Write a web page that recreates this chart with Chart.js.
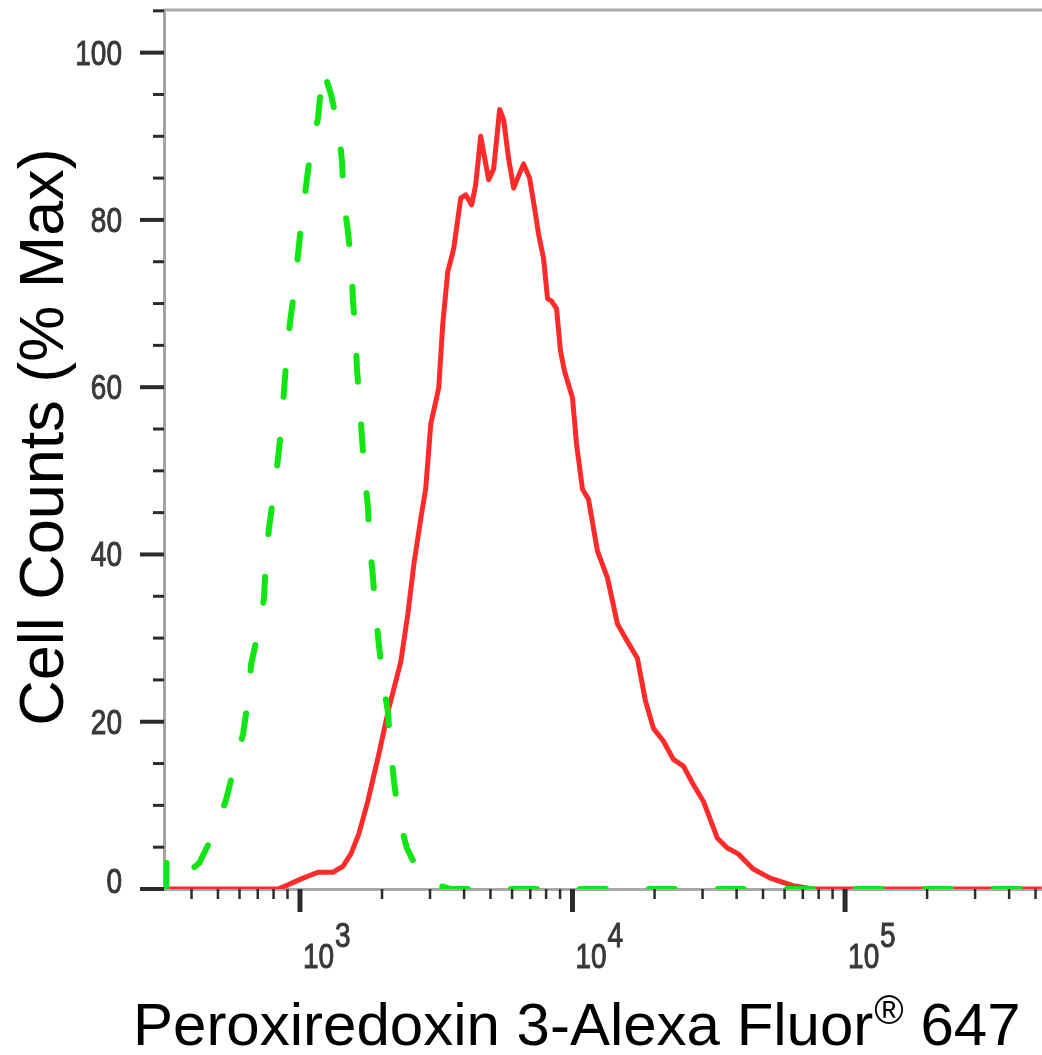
<!DOCTYPE html>
<html>
<head>
<meta charset="utf-8">
<script src="https://cdn.jsdelivr.net/npm/chart.js@4.4.1/dist/chart.umd.min.js"></script>
<style>
  html, body { margin: 0; padding: 0; background: #fff; }
  #wrap { width: 1042px; height: 1055px; position: relative; }
</style>
</head>
<body>
<div id="wrap"><canvas id="histChart"></canvas></div>
<script>
// isotype control (green dashed) - fluorescence intensity / % of max
const controlX = [323, 324, 372, 427, 492, 536, 578, 618, 646, 662, 708, 738, 750, 769, 804, 830,
  859, 873, 895, 918, 959, 984, 1016, 1052, 1096, 1164, 1213, 1300, 1390, 1426, 1449, 1500,
  1549, 1563, 1603, 1618, 1660, 1687, 1730, 1774, 1803, 1849, 1897, 1945, 2014, 2099, 2153,
  2208, 2307, 2466, 2825, 3573, 526800];
const controlY = [0, 3.6, 1.5, 3.1, 7.2, 10.7, 15.0, 18.5, 22.8, 26.9, 31.2, 34.8, 39.4, 43.0, 47.8, 51.4,
  55.9, 59.5, 64.0, 67.6, 72.3, 75.9, 80.4, 84.0, 88.5, 92.1, 98.1, 95.0, 90.6, 87.0, 82.2, 78.6,
  74.0, 70.5, 65.8, 62.2, 57.7, 54.1, 49.3, 45.8, 41.2, 37.6, 32.9, 29.4, 24.9, 21.3, 16.7,
  13.1, 8.5, 4.9, 1.0, 0, 0];

// Peroxiredoxin 3 stained cells (red)
const stainedX = [323, 830, 904, 1026, 1164, 1321, 1437, 1538, 1644, 1774, 1946, 2118, 2344, 2488,
  2617, 2775, 2894, 3019, 3229, 3340, 3485, 3666, 3889, 4057, 4266, 4413, 4603, 4924, 5136,
  5402, 5588, 5829, 6082, 6289, 6615, 6958, 7257, 7506, 7830, 8098, 8376, 8737, 9037, 9348,
  10000, 10344, 10880, 11444, 12346, 13434, 14616, 15636, 17300, 18510, 19807, 21544, 23442,
  25506, 27750, 30197, 33970, 36970, 40560, 46030, 53130, 64490, 76370, 526800];
const stainedY = [0, 0, 0.5, 1.3, 2.0, 2.0, 2.7, 4.2, 6.6, 10.5, 16.1, 21.6, 27.2, 32.9,
  38.8, 44.3, 47.9, 55.6, 59.9, 67.5, 73.8, 76.6, 82.6, 83.0, 81.8, 84.2, 90.0, 84.8, 86.1,
  93.2, 92.0, 87.3, 83.8, 85.0, 86.7, 85.0, 81.4, 78.3, 75.4, 70.6, 70.3, 69.4, 64.3, 61.9,
  58.7, 53.2, 47.8, 46.6, 40.4, 37.2, 31.7, 30.0, 27.6, 22.5, 19.2, 17.7, 15.5,
  14.7, 12.5, 10.5, 6.1, 4.9, 4.2, 2.4, 1.3, 0.4, 0, 0];

const xMajorTicks = [1000, 10000, 100000];
const xMajorExponents = ['3', '4', '5'];
const xMinorTicks = [400, 500, 600, 700, 800, 900,
  2000, 3000, 4000, 5000, 6000, 7000, 8000, 9000,
  20000, 30000, 40000, 50000, 60000, 70000, 80000, 90000,
  200000, 300000, 400000, 500000];
const yMajorTicks = [0, 20, 40, 60, 80, 100];
const yMinorTicks = [5, 10, 15, 25, 30, 35, 45, 50, 55, 65, 70, 75, 85, 90, 95, 105];

const xTitle = 'Peroxiredoxin 3-Alexa Fluor';
const xTitleMark = '\u00AE';
const xTitleEnd = ' 647';
const yTitle = 'Cell Counts (% Max)';

const FONT = '"Liberation Sans", Arial, Helvetica, sans-serif';

function toPoints(xs, ys) {
  return xs.map((v, i) => ({ x: v, y: ys[i] }));
}

function stroke(ctx, x1, y1, x2, y2) {
  ctx.beginPath();
  ctx.moveTo(x1, y1);
  ctx.lineTo(x2, y2);
  ctx.stroke();
}

// narrow, slightly heavy tick label font, like the cytometry software output
function narrowText(ctx, text, x, y, align) {
  ctx.save();
  ctx.translate(x, y);
  ctx.scale(0.8, 1);
  ctx.textAlign = align;
  ctx.fillText(text, 0, 0);
  ctx.strokeText(text, 0, 0);
  ctx.restore();
}

const axisDecor = {
  id: 'axisDecor',
  afterDraw(chart) {
    const { ctx, chartArea, scales: { x, y } } = chart;
    const base = chartArea.bottom;
    const left = chartArea.left;
    ctx.save();

    // top frame line
    ctx.strokeStyle = '#a9a9a9';
    ctx.lineWidth = 3;
    stroke(ctx, left, chartArea.top, chartArea.right, chartArea.top);

    // x tick marks
    ctx.strokeStyle = '#2b2b2b';
    ctx.lineWidth = 2.5;
    xMinorTicks.forEach(v => {
      const px = x.getPixelForValue(v);
      stroke(ctx, px, base, px, base + 10);
    });
    ctx.lineWidth = 5;
    xMajorTicks.forEach(v => {
      const px = x.getPixelForValue(v);
      stroke(ctx, px, base, px, base + 23);
    });

    // y tick marks
    ctx.lineWidth = 3;
    yMinorTicks.forEach(v => {
      const py = y.getPixelForValue(v);
      stroke(ctx, left - 11, py, left, py);
    });
    ctx.lineWidth = 4;
    yMajorTicks.forEach(v => {
      const py = y.getPixelForValue(v);
      stroke(ctx, left - 24, py, left, py);
    });

    // tick labels
    ctx.fillStyle = '#383838';
    ctx.strokeStyle = '#383838';
    ctx.lineWidth = 1;
    ctx.font = '35px ' + FONT;
    ctx.textBaseline = 'alphabetic';
    yMajorTicks.forEach(v => {
      const py = y.getPixelForValue(v) + 12 - (v === 0 ? 8 : 0);
      narrowText(ctx, String(v), 122, py, 'right');
    });
    xMajorTicks.forEach((v, i) => {
      const px = x.getPixelForValue(v);
      narrowText(ctx, '10', px + 3, 968, 'left');
      narrowText(ctx, xMajorExponents[i], px + 35, 947, 'left');
    });

    // axis titles
    ctx.fillStyle = '#000';
    ctx.font = '60px ' + FONT;
    ctx.textAlign = 'left';
    let tx = 133;
    ctx.fillText(xTitle, tx, 1045);
    tx += ctx.measureText(xTitle).width + 1;
    ctx.font = '40px ' + FONT;
    ctx.fillText(xTitleMark, tx, 1024);
    tx += ctx.measureText(xTitleMark).width;
    ctx.font = '60px ' + FONT;
    ctx.fillText(xTitleEnd, tx, 1045);

    ctx.save();
    ctx.font = '63px ' + FONT;
    ctx.translate(63, 437);
    ctx.rotate(-Math.PI / 2);
    ctx.textAlign = 'center';
    ctx.fillText(yTitle, 0, 0);
    ctx.restore();

    ctx.restore();
  }
};

new Chart(document.getElementById('histChart'), {
  type: 'line',
  data: {
    datasets: [
      {
        label: 'Isotype control',
        data: toPoints(controlX, controlY),
        borderColor: '#12e612',
        borderWidth: 6,
        borderDash: [26, 43],
        borderCapStyle: 'round',
        pointRadius: 0,
        tension: 0,
        fill: false
      },
      {
        label: 'Peroxiredoxin 3',
        data: toPoints(stainedX, stainedY),
        borderColor: '#ff2b2b',
        borderWidth: 5,
        borderJoinStyle: 'round',
        pointRadius: 0,
        tension: 0,
        fill: false
      }
    ]
  },
  options: {
    responsive: true,
    maintainAspectRatio: false,
    animation: false,
    layout: { padding: { top: 10, left: 0, right: 0, bottom: 0 } },
    plugins: {
      legend: { display: false },
      tooltip: { enabled: false }
    },
    scales: {
      x: {
        type: 'logarithmic',
        min: 317,
        max: 528000,
        grid: { display: false },
        border: { display: true, color: '#a9a9a9', width: 3 },
        ticks: { display: false },
        afterFit: scale => { scale.height = 166; }
      },
      y: {
        type: 'linear',
        min: 0,
        max: 105.1,
        grid: { display: false },
        border: { display: true, color: '#a3a3a3', width: 3 },
        ticks: { display: false },
        afterFit: scale => { scale.width = 164; }
      }
    }
  },
  plugins: [axisDecor]
});
</script>
</body>
</html>
